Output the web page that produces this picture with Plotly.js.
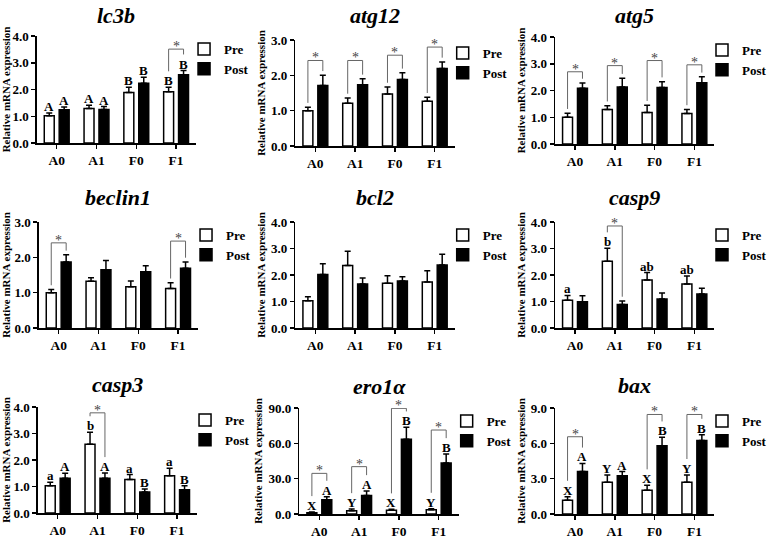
<!DOCTYPE html>
<html><head><meta charset="utf-8">
<script src="https://cdn.plot.ly/plotly-3.0.1.min.js"></script>
<style>html,body{margin:0;padding:0;background:#fff}</style>
</head><body><div id="chart" style="width:772px;height:538px"></div>
<script>
const categories = ['A0','A1','F0','F1'];
const seriesNames = ['Pre','Post'];
const yLabel = 'Relative mRNA expression';

const genes = ['lc3b','atg12','atg5','beclin1','bcl2','casp9','casp3','ero1α','bax'];
const yMax = [4, 3, 4, 3, 4, 4, 4, 90, 9];
const yStep = [1, 1, 1, 1, 1, 1, 1, 30, 3];

// values per gene: mean and upper SD (Pre / Post)
const lc3bPre = [1.02, 1.29, 1.89, 1.92];
const lc3bPreErr = [0.10, 0.12, 0.19, 0.16];
const lc3bPost = [1.24, 1.25, 2.23, 2.55];
const lc3bPostErr = [0.11, 0.11, 0.23, 0.16];
const lc3bPreLetters = ['A','A','B','B'];
const lc3bPostLetters = ['A','A','B','B'];
const lc3bSig = [null, null, null, 3.51];

const atg12Pre = [1.00, 1.21, 1.47, 1.27];
const atg12PreErr = [0.10, 0.15, 0.20, 0.11];
const atg12Post = [1.71, 1.73, 1.88, 2.19];
const atg12PostErr = [0.29, 0.17, 0.19, 0.19];
const atg12PreLetters = ['','','',''];
const atg12PostLetters = ['','','',''];
const atg12Sig = [2.42, 2.42, 2.57, 2.80];

const atg5Pre = [1.00, 1.29, 1.18, 1.14];
const atg5PreErr = [0.15, 0.14, 0.27, 0.15];
const atg5Post = [2.08, 2.13, 2.11, 2.29];
const atg5PostErr = [0.20, 0.33, 0.22, 0.22];
const atg5PreLetters = ['','','',''];
const atg5PostLetters = ['','','',''];
const atg5Sig = [2.70, 2.93, 3.12, 2.96];

const beclin1Pre = [1.00, 1.32, 1.17, 1.12];
const beclin1PreErr = [0.09, 0.10, 0.16, 0.16];
const beclin1Post = [1.87, 1.65, 1.59, 1.69];
const beclin1PostErr = [0.20, 0.26, 0.17, 0.18];
const beclin1PreLetters = ['','','',''];
const beclin1PostLetters = ['','','',''];
const beclin1Sig = [2.41, null, null, 2.46];

const bcl2Pre = [1.03, 2.36, 1.69, 1.74];
const bcl2PreErr = [0.15, 0.54, 0.28, 0.42];
const bcl2Post = [2.02, 1.66, 1.77, 2.38];
const bcl2PostErr = [0.40, 0.23, 0.16, 0.40];
const bcl2PreLetters = ['','','',''];
const bcl2PostLetters = ['','','',''];
const bcl2Sig = [null, null, null, null];

const casp9Pre = [1.05, 2.52, 1.81, 1.66];
const casp9PreErr = [0.18, 0.49, 0.28, 0.30];
const casp9Post = [0.99, 0.89, 1.09, 1.28];
const casp9PostErr = [0.23, 0.13, 0.23, 0.22];
const casp9PreLetters = ['a','b','ab','ab'];
const casp9PostLetters = ['','','',''];
const casp9Sig = [null, 3.85, null, null];

const casp3Pre = [1.03, 2.59, 1.26, 1.41];
const casp3PreErr = [0.13, 0.46, 0.19, 0.28];
const casp3Post = [1.31, 1.31, 0.79, 0.88];
const casp3PostErr = [0.19, 0.20, 0.12, 0.15];
const casp3PreLetters = ['a','b','a','a'];
const casp3PostLetters = ['A','A','B','B'];
const casp3Sig = [null, 3.78, null, null];

const ero1aPre = [1.1, 2.8, 3.1, 3.7];
const ero1aPreErr = [0.6, 1.4, 0.9, 0.8];
const ero1aPost = [12.2, 15.8, 63.4, 43.3];
const ero1aPostErr = [2.5, 3.7, 10.2, 7.6];
const ero1aPreLetters = ['X','Y','X','Y'];
const ero1aPostLetters = ['A','A','B','B'];
const ero1aSig = [34.5, 40.2, 89.7, 71.3];

const baxPre = [1.16, 2.69, 2.02, 2.69];
const baxPreErr = [0.31, 0.63, 0.42, 0.63];
const baxPost = [3.60, 3.24, 5.79, 6.23];
const baxPostErr = [0.69, 0.36, 0.72, 0.50];
const baxPreLetters = ['X','Y','X','Y'];
const baxPostLetters = ['A','A','B','B'];
const baxSig = [6.56, null, 8.45, 8.45];

const panelData = [
  [lc3bPre, lc3bPreErr, lc3bPost, lc3bPostErr, lc3bPreLetters, lc3bPostLetters, lc3bSig],
  [atg12Pre, atg12PreErr, atg12Post, atg12PostErr, atg12PreLetters, atg12PostLetters, atg12Sig],
  [atg5Pre, atg5PreErr, atg5Post, atg5PostErr, atg5PreLetters, atg5PostLetters, atg5Sig],
  [beclin1Pre, beclin1PreErr, beclin1Post, beclin1PostErr, beclin1PreLetters, beclin1PostLetters, beclin1Sig],
  [bcl2Pre, bcl2PreErr, bcl2Post, bcl2PostErr, bcl2PreLetters, bcl2PostLetters, bcl2Sig],
  [casp9Pre, casp9PreErr, casp9Post, casp9PostErr, casp9PreLetters, casp9PostLetters, casp9Sig],
  [casp3Pre, casp3PreErr, casp3Post, casp3PostErr, casp3PreLetters, casp3PostLetters, casp3Sig],
  [ero1aPre, ero1aPreErr, ero1aPost, ero1aPostErr, ero1aPreLetters, ero1aPostLetters, ero1aSig],
  [baxPre, baxPreErr, baxPost, baxPostErr, baxPreLetters, baxPostLetters, baxSig]
];

// layout geometry (pixels): plot area left, right, top, bottom
const W = 772, H = 538;
const boxes = [
  [37, 197, 36, 143], [297, 457, 40, 146], [558, 718, 37, 144],
  [39, 199, 222, 328], [297, 457, 222, 328], [558, 718, 222, 328],
  [38, 198, 407, 513], [301, 461, 408, 514], [558, 718, 408, 514]
];
const titleY = [15, 16, 15, 198, 198, 198, 384, 386, 385];

const FONT = 'Liberation Serif';
const BAR_OFF = 0.1875;
const traces = [];
const annotations = [];
const shapes = [];
const layout = {
  width: W, height: H, margin: {l:0, r:0, t:0, b:0},
  paper_bgcolor: '#fff', plot_bgcolor: '#fff',
  barmode: 'group', bargap: 0.25, bargroupgap: 0.333,
  showlegend: true, font: {family: FONT, color: '#000'}
};

const xIdx = categories.map((c, i) => i);

panelData.forEach((pd, p) => {
  const [pre, preErr, post, postErr, preL, postL, sig] = pd;
  const n = p + 1;
  const xa = n === 1 ? 'x' : 'x' + n;
  const ya = n === 1 ? 'y' : 'y' + n;
  const lg = n === 1 ? 'legend' : 'legend' + n;
  const [L, R, T, B] = boxes[p];
  const ym = yMax[p];

  const errStyle = (arr) => ({type: 'data', array: arr, arrayminus: arr.map(() => 0), symmetric: false,
    visible: true, color: '#000', thickness: 1.5, width: 3});
  traces.push({type: 'bar', name: seriesNames[0], x: xIdx, y: pre, xaxis: xa, yaxis: ya, legend: lg,
    marker: {color: '#fff', line: {color: '#000', width: 1.5}}, error_y: errStyle(preErr), hoverinfo: 'skip'});
  traces.push({type: 'bar', name: seriesNames[1], x: xIdx, y: post, xaxis: xa, yaxis: ya, legend: lg,
    marker: {color: '#000', line: {color: '#000', width: 1.5}}, error_y: errStyle(postErr), hoverinfo: 'skip'});

  layout['xaxis' + (n === 1 ? '' : n)] = {
    domain: [L / W, R / W], anchor: ya, range: [-0.5, 3.5],
    tickmode: 'array', tickvals: xIdx, ticktext: categories,
    showline: true, linecolor: '#000', linewidth: 1.5, ticks: 'outside', ticklen: 4, tickwidth: 1.5,
    tickcolor: '#000', showgrid: false, zeroline: false,
    tickfont: {family: FONT, size: 13.5, color: '#000', weight: 'bold'}, fixedrange: true
  };
  layout['yaxis' + (n === 1 ? '' : n)] = {
    domain: [1 - B / H, 1 - T / H], anchor: xa, range: [0, ym], dtick: yStep[p], tick0: 0,
    tickformat: '.1f', showline: true, linecolor: '#000', linewidth: 1.5, ticks: 'outside',
    ticklen: 4, tickwidth: 1.5, tickcolor: '#000', showgrid: false, zeroline: false,
    tickfont: {family: FONT, size: 13, color: '#000', weight: 'bold'}, fixedrange: true,
    title: {text: yLabel, font: {family: FONT, size: 11, color: '#000', weight: 'bold'}, standoff: 3}
  };
  layout[lg] = {
    x: (R - 12) / W, xanchor: 'left', y: 1 - (T - 2) / H, yanchor: 'top',
    bgcolor: 'rgba(0,0,0,0)', borderwidth: 0, tracegroupgap: 0,
    font: {family: FONT, size: 13, color: '#000', weight: 'bold'}
  };

  annotations.push({xref: 'paper', yref: 'paper', x: (L + R) / 2 / W, y: 1 - titleY[p] / H,
    xanchor: 'center', yanchor: 'middle', showarrow: false,
    text: genes[p], font: {family: FONT, size: 22, color: '#000', weight: 'bold', style: 'italic'}});

  const letterFont = {family: FONT, size: 13, color: '#000', weight: 'bold'};
  categories.forEach((c, i) => {
    const preTop = pre[i] + preErr[i];
    const postTop = post[i] + postErr[i];
    if (preL[i]) annotations.push({xref: xa, yref: ya, x: i - BAR_OFF, y: preTop, yanchor: 'bottom',
      yshift: -3, showarrow: false, text: preL[i], font: letterFont});
    if (postL[i]) annotations.push({xref: xa, yref: ya, x: i + BAR_OFF, y: postTop, yanchor: 'bottom',
      yshift: -3, showarrow: false, text: postL[i], font: letterFont});
    if (sig[i] !== null) {
      const top = sig[i];
      const padL = (preL[i] ? 0.15 : 0.04) * ym;
      const padR = (postL[i] ? 0.15 : 0.04) * ym;
      const yl = preTop + padL, yr = postTop + padR;
      shapes.push({type: 'path', xref: xa, yref: ya,
        path: `M${i - BAR_OFF},${yl} L${i - BAR_OFF},${top} L${i + BAR_OFF},${top} L${i + BAR_OFF},${yr}`,
        line: {color: '#666', width: 1}});
      annotations.push({xref: xa, yref: ya, x: i, y: top, yanchor: 'bottom', yshift: -7,
        showarrow: false, text: '*', font: {family: FONT, size: 14, color: '#444'}});
    }
  });
});

layout.annotations = annotations;
layout.shapes = shapes;
Plotly.newPlot('chart', traces, layout, {staticPlot: true, displayModeBar: false});
</script></body></html>
